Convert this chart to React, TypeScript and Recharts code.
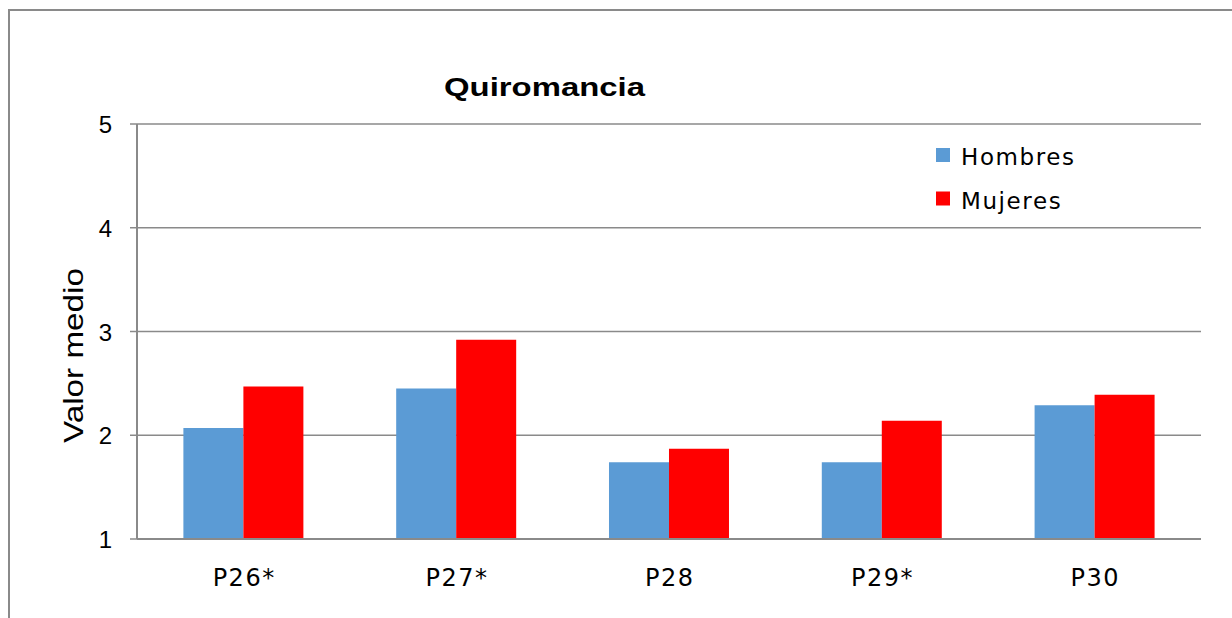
import React from 'react';
import { BarChart, Bar, XAxis, YAxis, CartesianGrid, Legend } from 'recharts';

const categories = ['P26*', 'P27*', 'P28', 'P29*', 'P30'];
const hombres = [2.07, 2.45, 1.74, 1.74, 2.29];
const mujeres = [2.47, 2.92, 1.87, 2.14, 2.39];
const yTicks = [1, 2, 3, 4, 5];
const title = 'Quiromancia';
const yLabel = 'Valor medio';

const data = categories.map((c, i) => ({ name: c, Hombres: hombres[i], Mujeres: mujeres[i] }));

const GRAY = '#8a8a8a';

const XTick = (props: any) => {
  const { x, y, payload } = props;
  return (
    <text x={x} y={y + 39} dx={0.75} textAnchor="middle" fontFamily="DejaVu Sans" fontSize={24} letterSpacing={1.5} fill="#000">
      {payload.value}
    </text>
  );
};

const YTick = (props: any) => {
  const { x, y, payload } = props;
  return (
    <text x={x - 16} y={y + 9} textAnchor="end" fontFamily="Liberation Sans" fontSize={24} fill="#000">
      {payload.value}
    </text>
  );
};

const LegendContent = (props: any) => {
  const payload = props.payload || [];
  return (
    <svg width={200} height={90} style={{ display: 'block' }}>
      {payload.map((p: any, i: number) => (
        <g key={p.value}>
          <rect x={0} y={8 + i * 43.5} width={14} height={14} fill={p.color} />
          <text x={25} y={25 + i * 43.5} fontFamily="DejaVu Sans" fontSize={23} letterSpacing={1.6} fill="#000">
            {p.value}
          </text>
        </g>
      ))}
    </svg>
  );
};

export default function App() {
  return (
    <div style={{ position: 'fixed', left: 0, top: 0, width: 1232, height: 618, overflow: 'hidden', background: '#fff' }}>
      <div
        style={{
          position: 'absolute',
          left: 8,
          top: 9,
          width: 1400,
          height: 800,
          borderTop: `2px solid ${GRAY}`,
          borderLeft: `2px solid ${GRAY}`,
        }}
      />
      <div style={{ position: 'absolute', left: 0, top: 0 }}>
        <BarChart
          width={1232}
          height={618}
          data={data}
          margin={{ top: 124, right: 31, bottom: 39, left: 0 }}
          barCategoryGap="21.8%"
          barGap={0}
        >
          <CartesianGrid vertical={false} stroke={GRAY} strokeWidth={1.5} />
          <XAxis
            dataKey="name"
            height={40}
            tickLine={false}
            axisLine={{ stroke: GRAY, strokeWidth: 2 }}
            tick={<XTick />}
            interval={0}
          />
          <YAxis
            type="number"
            domain={[1, 5]}
            ticks={yTicks}
            width={137}
            tickSize={7}
            tickLine={{ stroke: GRAY, strokeWidth: 1.5 }}
            axisLine={{ stroke: GRAY, strokeWidth: 2 }}
            tick={<YTick />}
            interval={0}
          />
          <Legend
            layout="vertical"
            align="center"
            verticalAlign="middle"
            content={<LegendContent />}
            wrapperStyle={{ left: 936, top: 140, width: 200, height: 90 }}
          />
          <Bar dataKey="Hombres" fill="#5B9BD5" isAnimationActive={false} />
          <Bar dataKey="Mujeres" fill="#FF0000" isAnimationActive={false} />
          <text x={544.5} y={96} textAnchor="middle" fontFamily="Liberation Sans" fontWeight="bold" fontSize={26} textLength={201} lengthAdjust="spacingAndGlyphs" fill="#000">
            {title}
          </text>
          <text transform="translate(83,355.5) rotate(-90)" textAnchor="middle" fontFamily="Liberation Sans" fontSize={28} textLength={175} lengthAdjust="spacingAndGlyphs" fill="#000">
            {yLabel}
          </text>
        </BarChart>
      </div>
    </div>
  );
}
